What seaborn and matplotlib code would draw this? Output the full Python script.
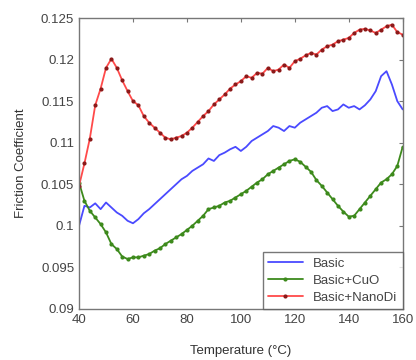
import numpy as np
import pandas as pd
import matplotlib
matplotlib.use("Agg")
import matplotlib.pyplot as plt
import seaborn as sns

temperature = list(range(40, 161, 2))

basic = [0.1000, 0.1024, 0.1022, 0.1027, 0.1020, 0.1028, 0.1022, 0.1016, 0.1012, 0.1006,
         0.1003, 0.1008, 0.1015, 0.1020, 0.1026, 0.1032, 0.1038, 0.1044, 0.1050, 0.1056,
         0.1060, 0.1066, 0.1070, 0.1074, 0.1081, 0.1078, 0.1085, 0.1088, 0.1092, 0.1095,
         0.1090, 0.1095, 0.1102, 0.1106, 0.1110, 0.1114, 0.1120, 0.1118, 0.1114, 0.1120,
         0.1118, 0.1124, 0.1128, 0.1132, 0.1136, 0.1142, 0.1144, 0.1138, 0.1140, 0.1146,
         0.1142, 0.1144, 0.1140, 0.1145, 0.1152, 0.1162, 0.1180, 0.1186, 0.1170, 0.1150,
         0.1140]

basic_cuo = [0.1052, 0.1030, 0.1018, 0.1010, 0.1002, 0.0992, 0.0978, 0.0972, 0.0963, 0.0960,
             0.0962, 0.0962, 0.0964, 0.0966, 0.0970, 0.0973, 0.0978, 0.0982, 0.0986, 0.0990,
             0.0995, 0.1000, 0.1006, 0.1012, 0.1020, 0.1022, 0.1024, 0.1028, 0.1030, 0.1034,
             0.1038, 0.1042, 0.1047, 0.1052, 0.1056, 0.1062, 0.1066, 0.1070, 0.1074, 0.1078,
             0.1080, 0.1077, 0.1071, 0.1065, 0.1055, 0.1048, 0.1040, 0.1032, 0.1024, 0.1017,
             0.1011, 0.1012, 0.1020, 0.1028, 0.1036, 0.1044, 0.1052, 0.1056, 0.1062, 0.1072,
             0.1095]

basic_nanodi = [0.1048, 0.1075, 0.1105, 0.1145, 0.1165, 0.1190, 0.1201, 0.1190, 0.1175, 0.1162,
                0.1150, 0.1145, 0.1132, 0.1124, 0.1118, 0.1112, 0.1106, 0.1104, 0.1106, 0.1108,
                0.1112, 0.1118, 0.1125, 0.1132, 0.1138, 0.1146, 0.1152, 0.1158, 0.1165, 0.1170,
                0.1174, 0.1180, 0.1178, 0.1184, 0.1183, 0.1190, 0.1186, 0.1188, 0.1194, 0.1190,
                0.1198, 0.1201, 0.1205, 0.1208, 0.1206, 0.1212, 0.1216, 0.1218, 0.1222, 0.1224,
                0.1226, 0.1232, 0.1236, 0.1237, 0.1235, 0.1232, 0.1236, 0.1240, 0.1242, 0.1233,
                0.1230]

x_ticks = [40, 60, 80, 100, 120, 140, 160]
y_ticks = [0.09, 0.095, 0.1, 0.105, 0.11, 0.115, 0.12, 0.125]
y_labels = ["0.09", "0.095", "0.1", "0.105", "0.11", "0.115", "0.12", "0.125"]

sns.set_style("white")
plt.rcParams['font.family'] = ['Liberation Sans', 'DejaVu Sans']

fig = plt.figure(figsize=(4.16, 3.6), dpi=100)
ax = fig.add_axes([0.19, 0.142, 0.778, 0.808])

sns.lineplot(x=temperature, y=basic, ax=ax, color='#4a4aff', lw=1.3, label='Basic')
sns.lineplot(x=temperature, y=basic_cuo, ax=ax, color='#3d8a1c', lw=1.3, marker='o',
             markersize=3, markeredgewidth=0, label='Basic+CuO')
sns.lineplot(x=temperature, y=basic_nanodi, ax=ax, color='#ff4a4a', lw=1.3, marker='o',
             markersize=3, markerfacecolor='#8b1a1a', markeredgewidth=0, label='Basic+NanoDi')

ax.set_xlim(40, 160)
ax.set_ylim(0.09, 0.125)
ax.set_xticks(x_ticks)
ax.set_yticks(y_ticks)
ax.set_yticklabels(y_labels)
ax.tick_params(direction='in', length=3, colors='#777777', labelcolor='#444444',
               labelsize=9.5, top=True, right=True)
for s in ax.spines.values():
    s.set_color('#777777')
    s.set_linewidth(1.0)

ax.set_xlabel('Temperature (°C)', fontsize=9.5, color='#333333', labelpad=14)
ax.set_ylabel('Friction Coefficient', fontsize=9.5, color='#333333', labelpad=10)

leg = ax.legend(loc='lower right', fontsize=9.5, frameon=True, fancybox=False,
                handlelength=2.6, borderaxespad=0, labelspacing=0.35)
leg.get_frame().set_edgecolor('#555555')
leg.get_frame().set_linewidth(1.0)
for t in leg.get_texts():
    t.set_color('#444444')

fig.savefig('out.png', dpi=100)
